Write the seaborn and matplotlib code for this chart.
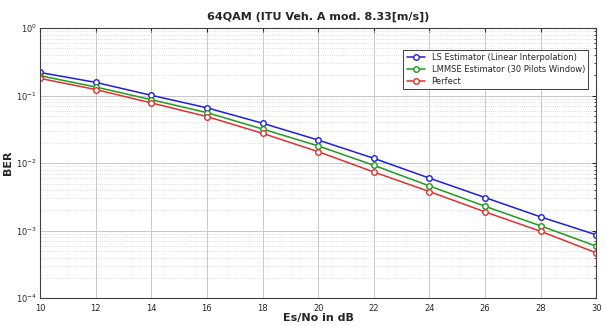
import numpy as np
import pandas as pd
import matplotlib
matplotlib.use("Agg")
import matplotlib.pyplot as plt
import seaborn as sns
from matplotlib.ticker import LogLocator, NullFormatter

snr_db = [10, 12, 14, 16, 18, 20, 22, 24, 26, 28, 30]
ber_ls = [0.22, 0.157, 0.101, 0.066, 0.039, 0.022, 0.0118, 0.0060, 0.0031, 0.0016, 0.00087]
ber_lmmse = [0.197, 0.134, 0.087, 0.056, 0.032, 0.018, 0.0093, 0.0046, 0.0023, 0.00118, 0.00059]
ber_perfect = [0.18, 0.123, 0.078, 0.049, 0.0276, 0.0148, 0.0074, 0.0038, 0.0019, 0.00098, 0.00047]
labels = ["LS Estimator (Linear Interpolation)",
          "LMMSE Estimator (30 Pilots Window)",
          "Perfect"]
colors = ["#1f1fd8", "#1f9a1f", "#e03030"]

sns.set_style("white")
plt.rcParams['font.family'] = ['DejaVu Sans']

fig = plt.figure(figsize=(6.06, 3.26), dpi=100)
ax = fig.add_axes([0.066, 0.085, 0.918, 0.829])

for ber, lab, c in zip([ber_ls, ber_lmmse, ber_perfect], labels, colors):
    df = pd.DataFrame({"snr": snr_db, "ber": ber})
    sns.lineplot(data=df, x="snr", y="ber", ax=ax, color=c, label=lab,
                 marker="o", markersize=4, mfc="white", mec=c, mew=1.0, lw=1.1)

ax.set_yscale("log")
ax.set_xlim(10, 30)
ax.set_ylim(1e-4, 1)
ax.set_xticks(snr_db)
ax.yaxis.set_major_locator(LogLocator(base=10, numticks=10))
ax.yaxis.set_minor_locator(LogLocator(base=10, subs=np.arange(2, 10), numticks=20))
ax.yaxis.set_minor_formatter(NullFormatter())
ax.grid(True, which="major", color="#c8c8c8", lw=0.7, ls="-")
ax.grid(True, which="minor", color="#d0d0d0", lw=0.6, ls=":")
ax.tick_params(which="both", direction="in", top=True, right=True, labelsize=6, length=3, pad=2)
ax.tick_params(axis="x", pad=4)
ax.tick_params(which="minor", length=1.5)
for s in ax.spines.values():
    s.set_color("#404040")
    s.set_linewidth(0.8)

ax.set_title("64QAM (ITU Veh. A mod. 8.33[m/s])", fontsize=8, fontweight="bold", pad=6)
ax.set_xlabel("Es/No in dB", fontsize=8, fontweight="bold", labelpad=0)
ax.set_ylabel("BER", fontsize=8, fontweight="bold", labelpad=2)

leg = ax.legend(loc="upper right", bbox_to_anchor=(0.993, 0.935), fontsize=6,
                fancybox=False, framealpha=1, edgecolor="#404040",
                handlelength=2.2, borderpad=0.4, labelspacing=0.35)
leg.get_frame().set_linewidth(0.7)

fig.savefig("out.png", dpi=100)
